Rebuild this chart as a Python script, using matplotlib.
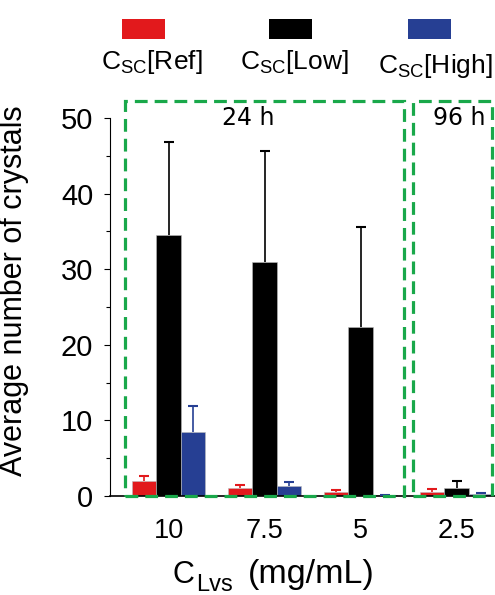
import matplotlib
matplotlib.use("Agg")
import matplotlib.pyplot as plt
import numpy as np
from matplotlib.patches import Rectangle

plt.rcParams['font.family'] = ['Liberation Sans', 'DejaVu Sans']
plt.rcParams['mathtext.fontset'] = 'custom'
plt.rcParams['mathtext.rm'] = 'Liberation Sans'

categories = ['10', '7.5', '5', '2.5']
series_names = [r'$\mathregular{C_{SC}}$[Ref]', r'$\mathregular{C_{SC}}$[Low]', r'$\mathregular{C_{SC}}$[High]']
ref_vals = [2.0, 1.0, 0.5, 0.55]
ref_err = [0.65, 0.4, 0.35, 0.35]
low_vals = [34.5, 31.0, 22.4, 1.05]
low_err = [12.3, 14.7, 13.2, 0.9]
high_vals = [8.45, 1.3, 0.1, 0.25]
high_err = [3.45, 0.6, 0.0, 0.15]
colors = ['#e2191c', '#000000', '#263f93']
period_labels = ['24 h', '96 h']

fig = plt.figure(figsize=(4.95, 5.95), dpi=100)
ax = fig.add_axes([110/495, 1-496/595, 385/495, 378/595])

x = np.arange(len(categories))
w = 0.255
for i, (vals, errs, c) in enumerate(zip([ref_vals, low_vals, high_vals],
                                         [ref_err, low_err, high_err], colors)):
    pos = x + (i - 1) * w
    vals = np.array(vals)
    errs = np.array(errs)
    ax.bar(pos, vals, width=w, color=c, edgecolor='#bbbbbb', linewidth=0.4, zorder=2)
    ax.errorbar(pos, vals, yerr=[np.zeros(len(vals)), errs], fmt='none',
                ecolor=c, elinewidth=1.2, capsize=0, zorder=3)
    ax.plot(pos, vals + errs, linestyle='none', marker='_', markersize=7,
            markeredgewidth=1.5, color=c, zorder=3)

ax.set_xlim(-0.61, 3.40)
ax.set_ylim(0, 50)
ax.set_yticks([0, 10, 20, 30, 40, 50])
ax.set_yticks([5, 15, 25, 35, 45], minor=True)
ax.set_xticks(x)
ax.set_xticklabels(categories, fontsize=19.5)
ax.tick_params(axis='x', length=0, pad=16)
ax.tick_params(axis='y', which='major', length=4, width=0.8, labelsize=21, pad=8)
ax.tick_params(axis='y', which='minor', length=3, width=0.8)
for s in ['top', 'right']:
    ax.spines[s].set_visible(False)
ax.spines['left'].set_linewidth(0.8)
ax.spines['bottom'].set_linewidth(1.2)

ax.set_ylabel('Average number of crystals', fontsize=22)
ax.yaxis.set_label_coords(-0.21, (496-291)/378)

# x label built from pieces so the subscript stays large
fig.text(172/495, 1-583/595, 'C', fontsize=22, ha='left', va='baseline')
fig.text(196/495, 1-591/595, 'Lvs', fontsize=17, ha='left', va='baseline')
fig.text(248/495, 1-583/595, '(mg/mL)', fontsize=24.5, ha='left', va='baseline')

# dashed period boxes
green = '#19a84a'
boxes = [(-0.453, 2.45), (2.547, 3.37)]
top = 52.3
for (x0, x1) in boxes:
    r = Rectangle((x0, 0), x1 - x0, top, fill=False, edgecolor=green,
                  linewidth=2.3, linestyle=(0, (4, 2.2)), clip_on=False, zorder=4)
    ax.add_patch(r)
ax.text(0.83, 50.0, period_labels[0], fontsize=17, ha='center', va='center',
        family=['DejaVu Sans'])
ax.text(3.03, 50.0, period_labels[1], fontsize=17, ha='center', va='center',
        family=['DejaVu Sans'])

# legend drawn manually at top
leg_patch_x = [122, 269, 408]
leg_text_x = [152, 294, 435]
leg_text_y = [62, 62, 66]
for px, tx, ty, c, name in zip(leg_patch_x, leg_text_x, leg_text_y, colors, series_names):
    fig.patches.append(Rectangle((px/495, 1-39/595), 43/495, 20/595, transform=fig.transFigure,
                                 facecolor=c, edgecolor='none'))
    fig.text(tx/495, 1-ty/595, name, fontsize=19, ha='center', va='center')

fig.savefig('out.png', dpi=100)
